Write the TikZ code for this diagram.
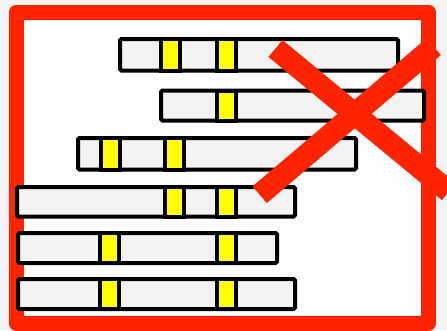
\documentclass[tikz,border=0pt]{standalone}
\usetikzlibrary{calc}
\definecolor{pagegray}{RGB}{243,243,243}
\definecolor{barfill}{RGB}{243,243,243}
\definecolor{alertred}{RGB}{255,36,0}
\definecolor{markyellow}{RGB}{255,255,0}
\tikzset{
  framebox/.style={draw=alertred, line width=15pt, line join=round, fill=white},
  barbox/.style={draw=black, line width=4pt, fill=barfill, rounded corners=1.5pt},
  markbox/.style={draw=black, line width=4pt, fill=markyellow},
  crossbar/.style={draw=alertred, line width=22pt, line cap=butt}
}
% one bar: \trackbar{x left}{x right}{y top}{y bottom}{list of marker left edges}
\newcommand\trackbar[5]{%
  \draw[barbox] (#1+2,#3+2) rectangle (#2-2,#4-2);
  \foreach \mx in {#5} {
    \draw[markbox] (\mx+2,#3+2) rectangle (\mx+20.5,#4-2);
  }%
}
\begin{document}
\begin{tikzpicture}[x=1pt,y=-1pt]
  \useasboundingbox (0,0) rectangle (447,330);
  \clip (0,0) rectangle (447,330);
  \fill[pagegray] (0,0) rectangle (447,330);
  % outer frame
  \draw[framebox] (16,12) rectangle (428.5,323);
  % bars with their yellow markers
  \trackbar{118}{400}{37}{72.5}{159,215}
  \trackbar{159}{426}{88.5}{122.5}{215}
  \trackbar{76}{358}{136}{171.5}{99,163}
  \trackbar{15}{297}{185}{218.5}{163,215}
  \trackbar{16}{279}{231}{265}{98,215}
  \trackbar{16}{297}{277}{311}{98,215}
  % the cross
  \coordinate (xa) at (275.5,48.5);
  \coordinate (xb) at (448.8,191.6);
  \coordinate (xc) at (259.7,194.7);
  \coordinate (xd) at (433.7,46.7);
  \draw[crossbar] (xa) -- (xb);
  \draw[crossbar] (xc) -- (xd);
\end{tikzpicture}
\end{document}
